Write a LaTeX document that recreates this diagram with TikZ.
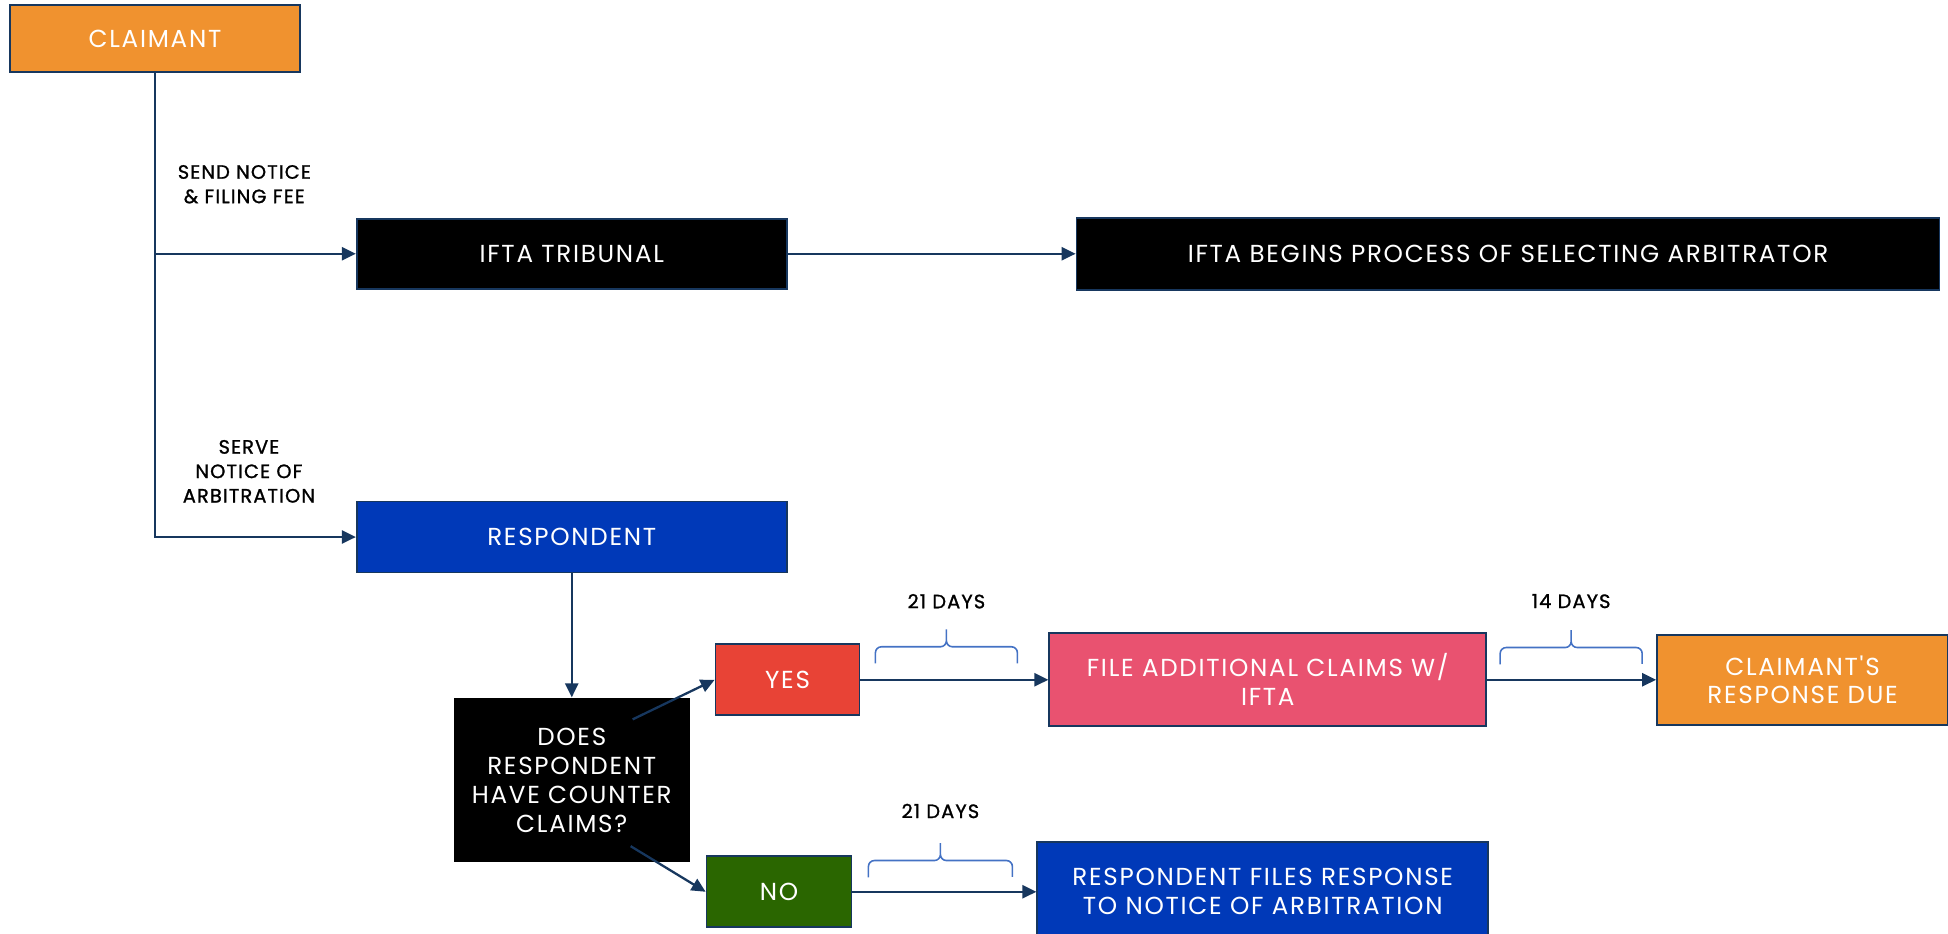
\documentclass[tikz,border=0pt]{standalone}
\usepackage{fontspec}
\setmainfont{Poppins}[Ligatures=TeXOff, LetterSpace=7]
\newfontfamily\lblfont{Poppins}[Ligatures=TeXOff, LetterSpace=6, FakeBold=1.2]
\usetikzlibrary{positioning,arrows.meta,calc}
\definecolor{navy}{HTML}{17375E}
\definecolor{orng}{HTML}{F0922F}
\definecolor{royal}{HTML}{0039B8}
\definecolor{scarlet}{HTML}{E84336}
\definecolor{leaf}{HTML}{2A6600}
\definecolor{rose}{HTML}{E95270}
\definecolor{bracecol}{HTML}{4472C4}

\begin{document}
\begin{tikzpicture}[
        box/.style={draw=navy, line width=1pt, text=white, align=center, inner sep=2pt,
            font=\fontsize{14}{16.4}\selectfont},
        lbl/.style={align=center, inner sep=0pt, font=\lblfont\fontsize{11}{13.9}\selectfont},
        link/.style={navy, line width=1.3pt, -{Triangle[length=0.28cm,width=0.26cm]}},
        brc/.style={draw=bracecol, line width=0.9pt, rounded corners=0.12cm}]
        \useasboundingbox (0,0) rectangle (38.96,-18.68);
        \node [box, fill=orng, minimum width=5.8cm, minimum height=1.34cm] (claim) at (3.10,-0.77) {CLAIMANT};
        \node [box, fill=black, minimum width=8.6cm, minimum height=1.4cm, below right=2.9cm and 1.1cm of claim] (trib) {IFTA TRIBUNAL};
        \node [box, fill=black, minimum width=17.26cm, minimum height=1.44cm, right=5.76cm of trib] (sel) {IFTA BEGINS PROCESS OF SELECTING ARBITRATOR};
        \node [box, fill=royal, minimum width=8.6cm, minimum height=1.42cm, below=4.22cm of trib] (resp) {RESPONDENT};
        \node [box, fill=black, draw=none, minimum width=4.72cm, minimum height=3.28cm, below=2.48cm of resp] (q) {DOES\\RESPONDENT\\HAVE COUNTER\\CLAIMS?};
        \node [box, fill=scarlet, minimum width=2.88cm, minimum height=1.42cm, right=0.48cm of q, yshift=2.01cm] (yes) {YES};
        \node [box, fill=leaf, minimum width=2.9cm, minimum height=1.42cm, right=0.3cm of q, yshift=-2.23cm] (no) {NO};
        \node [box, fill=rose, minimum width=8.74cm, minimum height=1.86cm, right=3.76cm of yes] (add) {FILE ADDITIONAL CLAIMS W/\\IFTA};
        \node [box, fill=orng, minimum width=5.82cm, minimum height=1.8cm, right=3.38cm of add] (due) {CLAIMANT'S\\RESPONSE DUE};
        \node [box, fill=royal, minimum width=9.02cm, minimum height=2cm, right=3.68cm of no] (reply) {RESPONDENT FILES RESPONSE\\TO NOTICE OF ARBITRATION};

        \coordinate (fork1) at (claim.south |- trib.west);
        \coordinate (fork2) at (claim.south |- resp.west);
        \coordinate (qy) at ([shift={(-1.16,-0.44)}]q.north east);
        \coordinate (qn) at ([shift={(-1.2,0.34)}]q.south east);
        \node [lbl, above right=1.0cm and 0.45cm of fork1] (sendlbl) {SEND NOTICE\\\& FILING FEE};
        \node [lbl, above right=0.68cm and 0.55cm of fork2] (servelbl) {SERVE\\NOTICE OF\\ARBITRATION};

        \draw [link] (claim.south) |- (resp.west);
        \draw [link] (fork1) -- (trib.west);
        \draw [link] (trib.east) -- (sel.west);
        \draw [link] (resp.south) -- (q.north);
        \draw [link] (qy) -- (yes.west);
        \draw [link] (qn) -- (no.west);
        \draw [link] (yes.east) -- (add.west);
        \draw [link] (add.east) -- (due.west);
        \draw [link] (no.east) -- (reply.west);

        \coordinate (b1s) at ($(yes.east)+(0.3,0.33)$);
        \coordinate (b1e) at ($(add.west)+(-0.62,0.33)$);
        \coordinate (b1m) at ($(b1s)!0.5!(b1e)+(0,0.33)$);
        \coordinate (b2s) at ($(add.east)+(0.26,0.31)$);
        \coordinate (b2e) at ($(due.west)+(-0.28,0.32)$);
        \coordinate (b2m) at ($(b2s)!0.5!(b2e)+(0,0.33)$);
        \coordinate (b3s) at ($(no.east)+(0.32,0.29)$);
        \coordinate (b3e) at ($(reply.west)+(-0.48,0.3)$);
        \coordinate (b3m) at ($(b3s)!0.5!(b3e)+(0,0.33)$);
        \draw [brc] (b1s) |- (b1m) -- ++(0,0.35) (b1e) |- (b1m) -- ++(0,0.35);
        \draw [brc] (b2s) |- (b2m) -- ++(0,0.35) (b2e) |- (b2m) -- ++(0,0.35);
        \draw [brc] (b3s) |- (b3m) -- ++(0,0.35) (b3e) |- (b3m) -- ++(0,0.35);
        \node [lbl, above=0.76cm of b1m] (days1) {21 DAYS};
        \node [lbl, above=0.78cm of b2m] (days2) {14 DAYS};
        \node [lbl, above=0.84cm of b3m] (days3) {21 DAYS};
\end{tikzpicture}
\end{document}
